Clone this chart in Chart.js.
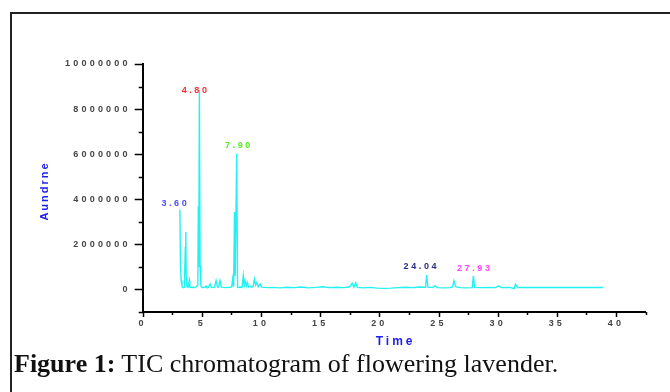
<!DOCTYPE html>
<html><head><meta charset="utf-8">
<script src="https://cdn.jsdelivr.net/npm/chart.js@4.4.1/dist/chart.umd.min.js"></script>
<style>
html,body{margin:0;padding:0;background:#fff;}
#wrap{position:relative;width:670px;height:392px;overflow:hidden;background:#fff;}
#frame{position:absolute;left:10px;top:12px;width:700px;height:420px;border-left:2px solid #222;border-top:2px solid #222;box-sizing:border-box;}
#c{position:absolute;left:0;top:0;}
#cap{position:absolute;left:14px;top:351px;font-family:"Liberation Serif","DejaVu Serif",serif;font-size:26px;line-height:26px;color:#111;white-space:nowrap;}
</style></head>
<body>
<div id="wrap">
<div id="frame"></div>
<canvas id="c" width="670" height="392"></canvas>
<div id="cap"><b>Figure 1:</b> TIC chromatogram of flowering lavender.</div>
</div>
<script>
// Retention time (min)
const times = [
  3.14, 3.19, 3.25, 3.32, 3.42, 3.52, 3.60, 3.64, 3.68, 3.74,
  3.84, 3.94, 3.98, 4.04, 4.15, 4.30, 4.45, 4.58, 4.66, 4.70,
  4.74, 4.79, 4.85, 4.92, 5.02, 5.15, 5.28, 5.35, 5.42, 5.55,
  5.69, 5.80, 5.95, 6.08, 6.20, 6.32, 6.42, 6.53, 6.65, 6.80,
  7.00, 7.20, 7.40, 7.52, 7.60, 7.68, 7.76, 7.82, 7.94, 8.02,
  8.10, 8.25, 8.40, 8.50, 8.58, 8.65, 8.75, 8.84, 8.95, 9.07,
  9.20, 9.32, 9.44, 9.54, 9.64, 9.76, 9.92, 10.05, 10.30, 10.60,
  11.0, 11.6, 12.2, 12.8, 13.4, 14.0, 14.6, 15.2, 15.8, 16.4,
  17.0, 17.5, 17.7, 17.85, 18.0, 18.15, 18.6, 19.2, 19.8, 20.4,
  21.0, 21.6, 22.2, 22.8, 23.4, 23.9, 24.0, 24.1, 24.5, 24.7,
  24.9, 25.4, 26.0, 26.2, 26.3, 26.45, 26.8, 27.3, 27.85, 27.95,
  28.05, 28.6, 29.2, 29.8, 30.1, 30.3, 31.0, 31.4, 31.5, 31.7,
  32.5, 33.5, 35.0, 36.5, 38.9
];
// Abundance
const abundance = [
  3550000, 1150000, 400000, 120000, 80000, 100000, 1850000, 2550000, 500000, 120000,
  100000, 400000, 150000, 90000, 80000, 100000, 90000, 150000, 200000, 3700000,
  1000000, 8850000, 1050000, 150000, 80000, 100000, 90000, 150000, 100000, 90000,
  240000, 100000, 90000, 110000, 390000, 110000, 100000, 390000, 100000, 90000,
  80000, 90000, 100000, 120000, 460000, 120000, 3430000, 600000, 6030000, 100000,
  90000, 110000, 90000, 610000, 200000, 390000, 150000, 310000, 110000, 150000,
  100000, 120000, 460000, 200000, 310000, 110000, 240000, 100000, 90000, 80000,
  90000, 70000, 100000, 80000, 110000, 70000, 90000, 120000, 80000, 100000,
  80000, 120000, 280000, 100000, 300000, 90000, 70000, 90000, 60000, 50000,
  60000, 80000, 100000, 80000, 110000, 100000, 640000, 100000, 90000, 160000,
  80000, 70000, 80000, 120000, 390000, 120000, 80000, 70000, 80000, 610000,
  90000, 80000, 90000, 80000, 160000, 80000, 90000, 40000, 230000, 90000,
  90000, 90000, 90000, 90000, 90000
];
// Axis ticks
const xTickValues = [0,2.5,5,7.5,10,12.5,15,17.5,20,22.5,25,27.5,30,32.5,35,37.5,40,42.5];
const yTickValues = [-1000000,0,1000000,2000000,3000000,4000000,5000000,6000000,7000000,8000000,9000000,10000000];
// Peak annotations
const peakLabels = ["3.60","4.80","7.90","24.04","27.93"];
const peakLabelTime = [2.65,4.36,8.03,23.44,27.95];
const peakLabelAbund = [3830000,8820000,6400000,1000000,950000];
const peakColors = ["#4b4bff","#ff2a2a","#55ee22","#2b2b88","#ff44ff"];

const tickFont = {family:"'Liberation Sans', Arial, sans-serif", size:9, weight:'bold'};

const decor = {
  id:'decor',
  beforeDraw(chart){ chart.ctx.letterSpacing = '3.2px'; },
  afterDraw(chart){
    const ctx = chart.ctx, xs = chart.scales.x, ys = chart.scales.y, a = chart.chartArea;
    ctx.save();
    ctx.letterSpacing = '0px';
    ctx.strokeStyle = '#000'; ctx.lineWidth = 1.5;
    ctx.beginPath();
    xTickValues.forEach(v=>{
      const px = Math.round(xs.getPixelForValue(v))+0.5;
      const len = (v%5===0)?5:3;
      ctx.moveTo(px, a.bottom); ctx.lineTo(px, a.bottom+len);
    });
    yTickValues.forEach(v=>{
      const py = Math.round(ys.getPixelForValue(v))+0.5;
      const len = (v%2000000===0)?8:4;
      ctx.moveTo(a.left, py); ctx.lineTo(a.left-len, py);
    });
    ctx.stroke();
    // peak labels
    ctx.letterSpacing = '2.6px';
    ctx.font = "bold 9px 'Liberation Sans', Arial, sans-serif";
    ctx.textAlign = 'center'; ctx.textBaseline = 'middle';
    peakLabels.forEach((t,i)=>{
      ctx.fillStyle = peakColors[i];
      ctx.fillText(t, xs.getPixelForValue(peakLabelTime[i])+1.3, ys.getPixelForValue(peakLabelAbund[i]));
    });
    // axis titles
    ctx.fillStyle = '#2020f0';
    ctx.letterSpacing = '3px';
    ctx.font = "bold 12px 'Liberation Sans', Arial, sans-serif";
    ctx.fillText('Time', (a.left+a.right)/2+1.5, a.bottom+30);
    ctx.save();
    ctx.translate(45, (a.top+a.bottom)/2+4);
    ctx.rotate(-Math.PI/2);
    ctx.letterSpacing = '2px';
    ctx.font = "bold 11px 'Liberation Sans', Arial, sans-serif";
    ctx.fillText('Aundrne', 1, 0);
    ctx.restore();
    ctx.restore();
  }
};

new Chart(document.getElementById('c'), {
  type:'line',
  data:{datasets:[{
    data: times.map((t,i)=>({x:t, y:abundance[i]})),
    borderColor:'#22f2f2', borderWidth:1.4, pointRadius:0, tension:0, fill:false
  }]},
  options:{
    responsive:false, animation:false, events:[],
    layout:{padding:{left:0,right:24.4,top:64,bottom:0}},
    plugins:{legend:{display:false}, tooltip:{enabled:false}, title:{display:false}},
    scales:{
      x:{type:'linear', min:0, max:42.5,
        afterBuildTicks:s=>{ s.ticks = xTickValues.map(v=>({value:v})); },
        afterFit:s=>{ s.height = 80; },
        ticks:{autoSkip:false, maxRotation:0, padding:6, color:'#444', font:tickFont,
          callback:v=> (v%5===0)? String(v) : ''},
        grid:{display:false, drawTicks:false},
        border:{display:true, color:'#000', width:2}
      },
      y:{type:'linear', min:-1000000, max:10000000,
        afterBuildTicks:s=>{ s.ticks = yTickValues.map(v=>({value:v})); },
        afterFit:s=>{ s.width = 142.7; },
        ticks:{autoSkip:false, padding:12, color:'#444', font:tickFont,
          callback:v=> (v>=0 && v%2000000===0)? String(v) : ''},
        grid:{display:false, drawTicks:false},
        border:{display:true, color:'#000', width:2}
      }
    }
  },
  plugins:[decor]
});
</script>
</body></html>
